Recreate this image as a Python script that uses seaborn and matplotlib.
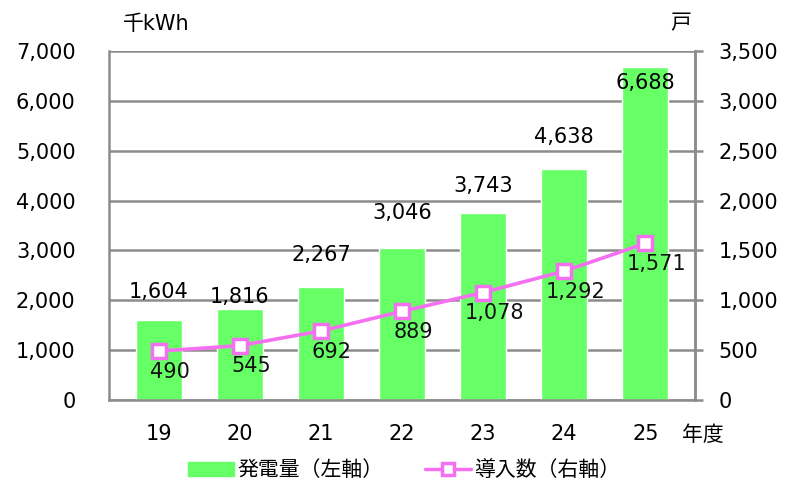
import numpy as np
import pandas as pd
import matplotlib.pyplot as plt
import seaborn as sns

years = ["19", "20", "21", "22", "23", "24", "25"]
generation = [1604, 1816, 2267, 3046, 3743, 4638, 6688]    # 千kWh (left)
installs = [490, 545, 692, 889, 1078, 1292, 1571]           # 戸 (right)

df = pd.DataFrame({"year": years, "gen": generation, "inst": installs})

sns.set_theme(style="white")
plt.rcParams["font.family"] = ["DejaVu Sans", "Noto Sans CJK JP"]
plt.rcParams["text.color"] = "black"
plt.rcParams["xtick.labelcolor"] = "black"
plt.rcParams["ytick.labelcolor"] = "black"

GREEN = "#66FF66"
PINK = "#F470F0"
GRID = "#8C8C8C"
FS = 15

fig, ax = plt.subplots(figsize=(7.89, 4.86), dpi=100)
fig.subplots_adjust(left=0.138, right=0.881, top=0.895, bottom=0.177)

sns.barplot(data=df, x="year", y="gen", color=GREEN, width=0.57,
            saturation=1, ax=ax, zorder=2)
ax.set_ylim(0, 7000)
ax.set_yticks(np.arange(0, 7001, 1000))
ax.set_yticklabels([f"{v:,}" for v in range(0, 7001, 1000)], fontsize=FS)
ax.yaxis.grid(True, color=GRID, linewidth=1.8, zorder=0)
ax.set_axisbelow(True)
ax.set_xlabel(""); ax.set_ylabel("")
ax.set_xticklabels(years, fontsize=FS)
ax.tick_params(axis="x", length=0, pad=17, labelcolor="black")
ax.tick_params(axis="y", length=0, pad=24, labelcolor="black")
for s in ["left", "bottom", "right", "top"]:
    ax.spines[s].set_color(GRID)
    ax.spines[s].set_linewidth(1.8)
ax.spines["top"].set_visible(False)

# bar labels, hand-placed like the original (last one sits inside the bar top)
bar_off = [20, 9, 23, 25, 20, 23, -12]
for i, v in enumerate(generation):
    ax.annotate(f"{v:,}", (i, v), xytext=(0, bar_off[i]), textcoords="offset points",
                ha="center", va="center", fontsize=FS, color="black")

ax2 = ax.twinx()
sns.lineplot(x=np.arange(len(years)), y=installs, ax=ax2, color=PINK,
             linewidth=2.6, marker="s", markersize=10, markerfacecolor="white",
             markeredgecolor=PINK, markeredgewidth=2.5, zorder=5)
ax2.set_ylim(0, 3500)
ax2.set_yticks(np.arange(0, 3501, 500))
ax2.set_yticklabels([f"{v:,}" for v in range(0, 3501, 500)], fontsize=FS)
ax2.tick_params(axis="y", length=6, color=GRID, width=1.8, pad=11, labelcolor="black")
ax2.grid(False)
for s in ["left", "bottom", "top"]:
    ax2.spines[s].set_visible(False)
ax2.spines["right"].set_color(GRID)
ax2.spines["right"].set_linewidth(1.8)
ax2.set_ylabel("")
ax2.set_xlim(ax.get_xlim())

for i, v in enumerate(installs):
    ax2.annotate(f"{v:,}", (i, v), xytext=(8, -15), textcoords="offset points",
                 ha="center", va="center", fontsize=FS, color="#111111")

fig.text(0.156, 0.950, "千kWh", fontsize=FS, ha="left", va="center")
fig.text(0.849, 0.953, "戸", fontsize=FS, ha="left", va="center")
fig.text(0.864, 0.105, "年度", fontsize=FS, ha="left", va="center")

handles = [plt.Rectangle((0, 0), 1, 1, color=GREEN),
           plt.Line2D([], [], color=PINK, linewidth=2.5, marker="s", markersize=9,
                      markerfacecolor="white", markeredgecolor=PINK, markeredgewidth=2.5)]
fig.legend(handles, ["発電量（左軸）", "導入数（右軸）"], loc="center",
           bbox_to_anchor=(0.512, 0.032), ncol=2, frameon=False, fontsize=FS,
           handlelength=2.2, columnspacing=2.0, handletextpad=0.15, borderpad=0)

plt.savefig("out.png", dpi=100)
